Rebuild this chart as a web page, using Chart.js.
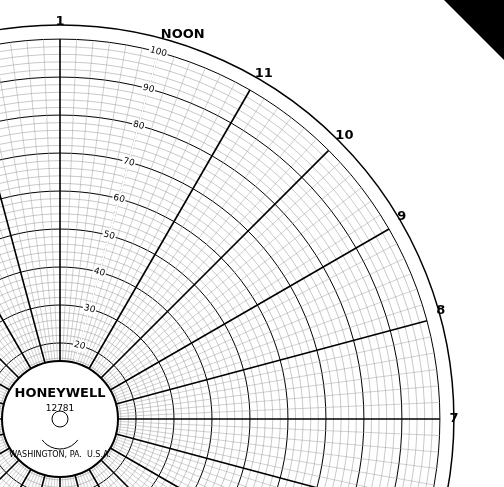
<!DOCTYPE html>
<html><head><meta charset="utf-8">
<script src="https://cdn.jsdelivr.net/npm/chart.js@4"></script>
<style>
body{margin:0;width:504px;height:487px;overflow:hidden;background:#fff;position:relative}
#wrap{position:absolute;left:-440px;top:-80px;width:1000px;height:1000px}
#corner{position:absolute;right:0;top:0;width:0;height:0;border-left:60px solid transparent;border top:60px solid #000;border-top:60px solid #000}
</style></head><body>
<div id="wrap"><canvas id="c" width="1000" height="1000"></canvas></div>
<div id="corner"></div>
<script>
// hour labels clockwise from noon, one slot every 10 minutes
var hours = ["NOON","11","10","9","8","7","6","5","4","3","2","1","MIDNIGHT","11","10","9","8","7","6","5","4","3","2","1"];
var slots = [];
hours.forEach(function(h) { slots.push(h, "", "", "", "", ""); });
var ringMax = 100;
var ringStep = 2;
var trace = slots.map(function() { return null; });

var hub = {
  id: "hub",
  afterDraw: function(chart) {
    var s = chart.scales.r, ctx = chart.ctx;
    ctx.save();
    ctx.beginPath();
    ctx.arc(s.xCenter, s.yCenter, 58, 0, Math.PI * 2);
    ctx.fillStyle = "#fff"; ctx.fill();
    ctx.lineWidth = 2; ctx.strokeStyle = "#000"; ctx.stroke();
    ctx.beginPath();
    ctx.arc(s.xCenter, s.yCenter, s.drawingArea + 14, 0, Math.PI * 2);
    ctx.lineWidth = 1.5; ctx.stroke();
    ctx.fillStyle = "#000"; ctx.textAlign = "center";
    ctx.font = "bold 13px 'DejaVu Sans'";
    ctx.fillText("HONEYWELL", s.xCenter, s.yCenter - 22);
    ctx.font = "9px 'DejaVu Sans'";
    ctx.fillText("12781", s.xCenter, s.yCenter - 8);
    ctx.beginPath(); ctx.arc(s.xCenter, s.yCenter, 8, 0, Math.PI * 2); ctx.lineWidth = 1; ctx.stroke();
    ctx.beginPath(); ctx.arc(s.xCenter, s.yCenter + 8, 22, 0.2 * Math.PI, 0.8 * Math.PI); ctx.stroke();
    ctx.font = "8px 'DejaVu Sans'";
    ctx.fillText("WASHINGTON, PA.  U.S.A.", s.xCenter, s.yCenter + 38);
    ctx.restore();
  }
};

new Chart(document.getElementById("c"), {
  type: "radar",
  data: { labels: slots, datasets: [{ data: trace, borderWidth: 0, pointRadius: 0 }] },
  options: {
    responsive: false, animation: false,
    layout: { padding: 95 },
    plugins: { legend: { display: false }, tooltip: { enabled: false } },
    scales: {
      r: {
        min: 0, max: ringMax, startAngle: 15,
        ticks: {
          stepSize: ringStep, z: 1, color: "#000",
          font: { size: 9, family: "DejaVu Sans" },
          backdropColor: "#fff", backdropPadding: 1,
          callback: function(v) { return v % 10 === 0 && v > 0 ? v : ""; }
        },
        grid: {
          color: function(c) { return c.tick.value % 10 === 0 ? "#000" : "#777"; },
          lineWidth: function(c) { return c.tick.value % 10 === 0 ? 1 : 0.4; }
        },
        angleLines: {
          color: function(c) { return c.index % 6 === 0 ? "#000" : "#888"; },
          lineWidth: function(c) { return c.index % 6 === 0 ? 1.6 : 0.4; }
        },
        pointLabels: { font: { size: 13, weight: "bold", family: "DejaVu Sans" }, color: "#000", padding: 4 }
      }
    }
  },
  plugins: [hub]
});
</script>
</body></html>
